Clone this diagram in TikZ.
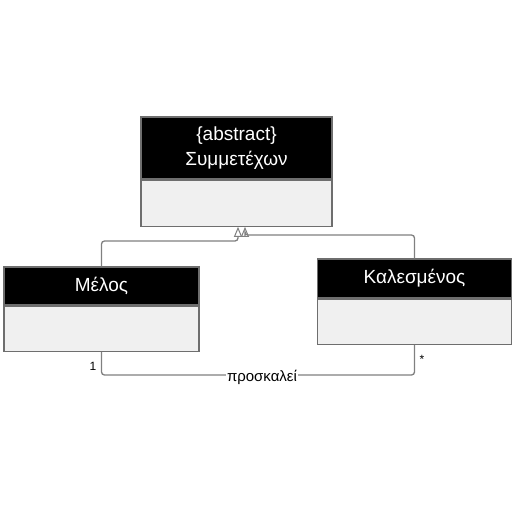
\documentclass[tikz,border=0pt]{standalone}
\usepackage{fontspec}
\setmainfont{Liberation Sans}
\usetikzlibrary{arrows.meta}
\definecolor{bodygray}{HTML}{F0F0F0}
\definecolor{edgegray}{HTML}{6E6E6E}
\definecolor{linegray}{HTML}{808080}
\tikzset{
  hdr/.style={draw=edgegray, line width=1.2pt, fill=black, text=white, inner sep=0pt, align=center, font=\fontsize{19}{25}\selectfont},
  bdy/.style={draw=edgegray, line width=1.2pt, fill=bodygray, inner sep=0pt},
  conn/.style={draw=linegray, line width=1.3pt, rounded corners=3pt},
  gen/.style={-{Triangle[open, length=10pt, width=8pt, line width=1pt]}, draw=linegray, line width=1.3pt, rounded corners=3pt},
  lbl/.style={font=\fontsize{15}{17}\selectfont, inner sep=1pt},
  mult/.style={font=\fontsize{12}{14}\selectfont, inner sep=0pt}
}
\begin{document}
\begin{tikzpicture}[x=1pt,y=-1pt]
\useasboundingbox (0,0) rectangle (512,512);
\fill[white] (0,0) rectangle (512,512);
% top box
\node[hdr, minimum width=191pt, minimum height=62pt] (thead) at (236.5,148) {\{abstract\}\\Συμμετέχων};
\node[bdy, minimum width=191pt, minimum height=46pt, anchor=north] (tbody) at (thead.south) {};
% left box
\node[hdr, minimum width=195pt, minimum height=38pt] (mhead) at (101.5,286) {Μέλος};
\node[bdy, minimum width=195pt, minimum height=45pt, anchor=north] (mbody) at (mhead.south) {};
% right box
\node[hdr, minimum width=194pt, minimum height=39pt] (khead) at (414.5,278.5) {Καλεσμένος};
\node[bdy, minimum width=194pt, minimum height=45pt, anchor=north] (kbody) at (khead.south) {};
% generalizations
\draw[gen] (mhead.north) |- (238,241) -- ([xshift=1.5pt]tbody.south);
\draw[gen] (khead.north) |- (245,235) -- ([xshift=8.5pt]tbody.south);
% association
\draw[conn] (mbody.south) |- (300,375) -| (kbody.south);
\node[lbl, fill=white] (assoc) at (262,377) {προσκαλεί};
\node[mult] (m1) at (93,366) {1};
\node[mult] (m2) at (422,359) {*};
\end{tikzpicture}
\end{document}
